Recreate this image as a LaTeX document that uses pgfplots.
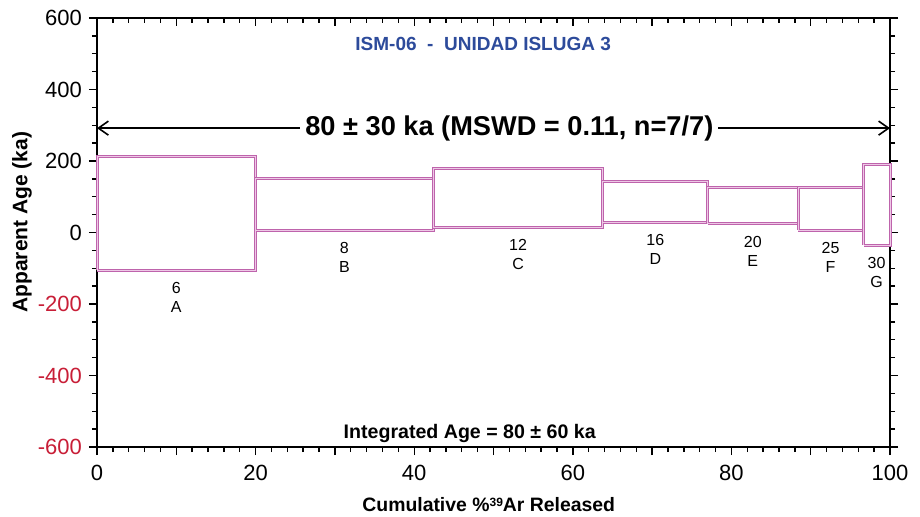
\documentclass[border=0pt]{standalone}
\usepackage{graphicx}
\usepackage{fontspec}
\setmainfont{Liberation Sans}
\usepackage{pgfplots}
\pgfplotsset{compat=1.18}
\usetikzlibrary{arrows.meta}

\definecolor{boxc}{RGB}{190,100,172}
\definecolor{boxin}{RGB}{238,200,230}
\definecolor{negred}{RGB}{200,30,55}
\definecolor{titleblue}{RGB}{45,75,155}

\newcommand{\ny}[1]{\textcolor{negred}{#1}}

\pgfplotsset{
  stepbox/.style={draw=boxc, double=boxin, line width=0.5pt, double distance=0.5pt,
    line join=miter, mark=none},
}
\tikzset{
  steplab/.style={anchor=north, yshift=-6pt, inner sep=0pt, align=center,
    font=\fontsize{8}{9.5}\selectfont},
}

\begin{document}
\begin{tikzpicture}
\useasboundingbox (-48.5pt,-34.5pt) rectangle (411.5pt,223.5pt);
\begin{axis}[at={(0,0)}, anchor=south west, scale only axis,
    width=396.5pt, height=214.5pt,
    xmin=0, xmax=100, ymin=-600, ymax=600, clip=false,
    axis line style={line width=0.9pt},
    tick style={line width=0.7pt, black},
    tick align=outside, xtick pos=bottom, ytick pos=both,
    major tick length=4pt, minor tick length=2.5pt,
    xtick={0,10,...,100},
    xticklabels={0,,20,,40,,60,,80,,100},
    minor x tick num=4,
    ytick={-600,-400,...,600},
    yticklabels={\ny{-600},\ny{-400},\ny{-200},0,200,400,600},
    minor y tick num=3,
    ticklabel style={font=\fontsize{11}{11}\selectfont},
    xticklabel style={yshift=-1.3pt},
  ]

  % step heating plateau boxes: x from-to (cumulative %), age lo-hi (ka)
  \addplot[stepbox] coordinates {(0,-105) (20,-105) (20,214) (0,214) (0,-105)};
  \addplot[stepbox] coordinates {(20,7) (42.4,7) (42.4,152) (20,152) (20,7)};
  \addplot[stepbox] coordinates {(42.4,15) (63.8,15) (63.8,180) (42.4,180) (42.4,15)};
  \addplot[stepbox] coordinates {(63.8,29) (77,29) (77,144) (63.8,144) (63.8,29)};
  \addplot[stepbox] coordinates {(77,25) (88.4,25) (88.4,127) (77,127) (77,25)};
  \addplot[stepbox] coordinates {(88.4,7) (96.7,7) (96.7,127) (88.4,127) (88.4,7)};
  \addplot[stepbox] coordinates {(96.7,-35) (100,-35) (100,189) (96.7,189) (96.7,-35)};

  \node[steplab] at (axis cs:10,-105) {6\\A};
  \node[steplab] at (axis cs:31.2,7) {8\\B};
  \node[steplab] at (axis cs:53.1,15) {12\\C};
  \node[steplab] at (axis cs:70.4,29) {16\\D};
  \node[steplab] at (axis cs:82.7,25) {20\\E};
  \node[steplab] at (axis cs:92.5,7) {25\\F};
  \node[steplab] at (axis cs:98.3,-35) {30\\G};

  \draw[{Straight Barb[length=5pt,width=7pt]}-{Straight Barb[length=5pt,width=7pt]}, line width=0.8pt]
    (axis cs:0,292) -- (axis cs:100,292);
  \node[fill=white, inner sep=2.5pt, font=\bfseries\fontsize{13.6}{13.6}\selectfont]
    at (axis cs:52,292) {80 ± 30 ka (MSWD = 0.11, n=7/7)};

  \node[text=titleblue, font=\bfseries\fontsize{9.5}{9.5}\selectfont]
    at (axis cs:48.7,527) {ISM-06\ \ -\ \ UNIDAD ISLUGA 3};
  \node[font=\bfseries\fontsize{9.8}{9.8}\selectfont]
    at (axis cs:47,-561) {Integrated Age = 80 ± 60 ka};

  \node[font=\bfseries\fontsize{9.7}{9.7}\selectfont]
    at ([yshift=-29pt]axis description cs:0.494,0)
    {Cumulative \%{\fontsize{6}{6}\selectfont\raisebox{2.5pt}{39}}Ar Released};
  \node[rotate=90, font=\bfseries\fontsize{10.5}{10.5}\selectfont]
    at ([xshift=-37.5pt]axis description cs:0,0.524) {Apparent Age (ka)};
\end{axis}

% top axis: ticks pointing into the plot
\begin{axis}[at={(0,0)}, anchor=south west, scale only axis,
    width=396.5pt, height=214.5pt,
    xmin=0, xmax=100, ymin=-600, ymax=600,
    axis x line*=top, hide y axis,
    axis line style={line width=0.9pt, -},
    tick style={line width=0.7pt, black},
    tick align=inside,
    major tick length=4pt, minor tick length=2.5pt,
    xtick={0,10,...,100}, xticklabels={}, minor x tick num=4,
  ]
  \addplot[draw=none] coordinates {(0,0)};
\end{axis}
\end{tikzpicture}
\end{document}
